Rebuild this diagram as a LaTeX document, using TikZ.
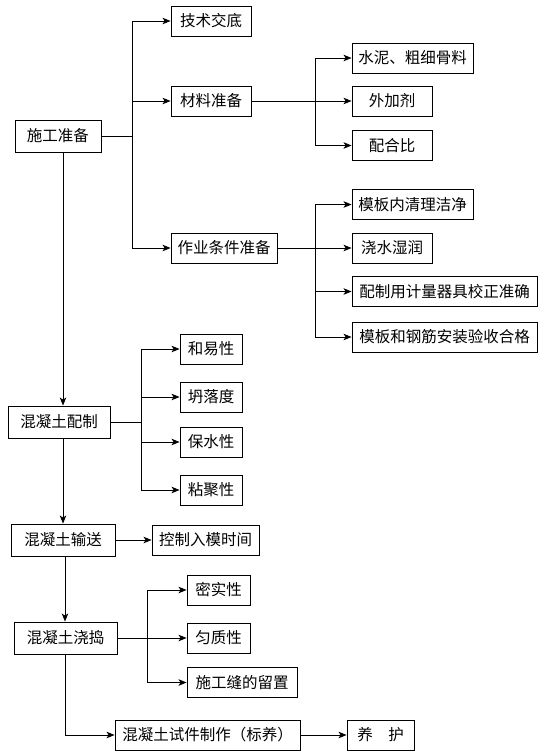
\documentclass[tikz,border=0pt]{standalone}
\usepackage{fontspec}
\setmainfont{Noto Sans CJK SC}
\usetikzlibrary{arrows.meta}
\begin{document}
\begin{tikzpicture}[x=1pt,y=-1pt,
  box/.style={draw,line width=0.9pt,inner sep=0pt,minimum height=30pt,font=\fontsize{15.5}{16}\selectfont},
  bigbox/.style={box,minimum height=32pt},
  ln/.style={line width=0.9pt},
  arr/.style={ln,-{Stealth[length=8pt,width=6.5pt,inset=2pt]}}]
\useasboundingbox (0,0) rectangle (558,755);
% main column
\node[bigbox,minimum width=86pt] (s1) at (58,136) {施工准备};
\node[bigbox,minimum width=102pt] (s2) at (59,422) {混凝土配制};
\node[bigbox,minimum width=104pt] (s3) at (63,540) {混凝土输送};
\node[bigbox,minimum width=103.5pt] (s4) at (65.75,638) {混凝土浇捣};
\node[box,minimum width=185pt] (s5) at (207.5,735) {混凝土试件制作（标养）};
\node[box,minimum width=67pt] (s6) at (380.5,735) {养　护};
% level 1
\node[box,minimum width=80pt] (a1) at (211,21) {技术交底};
\node[box,minimum width=80pt] (a2) at (211,101) {材料准备};
\node[box,minimum width=106pt] (a3) at (224,248) {作业条件准备};
% materials
\node[box,minimum width=121pt] (b1) at (412.5,58) {水泥、粗细骨料};
\node[box,minimum width=80pt] (b2) at (392,101) {外加剂};
\node[box,minimum width=80pt] (b3) at (392,145.5) {配合比};
% conditions
\node[box,minimum width=121pt] (c1) at (412.5,204.5) {模板内清理洁净};
\node[box,minimum width=80pt] (c2) at (392,248) {浇水湿润};
\node[box,minimum width=185pt] (c3) at (444.5,291.5) {配制用计量器具校正准确};
\node[box,minimum width=185pt] (c4) at (444.5,337) {模板和钢筋安装验收合格};
% mix
\node[box,minimum width=62pt] (d1) at (211,349) {和易性};
\node[box,minimum width=62pt] (d2) at (211,397) {坍落度};
\node[box,minimum width=62pt] (d3) at (211,442) {保水性};
\node[box,minimum width=62pt] (d4) at (211,490) {粘聚性};
% transport
\node[box,minimum width=107pt] (e1) at (205.5,540) {控制入模时间};
% pouring
\node[box,minimum width=63pt] (f1) at (218.5,590) {密实性};
\node[box,minimum width=63pt] (f2) at (218.5,638) {匀质性};
\node[box,minimum width=110pt] (f3) at (242,682.5) {施工缝的留置};
% branch coordinates
\coordinate (ja) at (132,136);
\coordinate (jb) at (315,101);
\coordinate (jd) at (141.7,422);
\coordinate (jf) at (147,638);
\coordinate (m1) at (63,0);
\coordinate (m2) at (65,0);
% connectors: 施工准备
\draw[ln] (s1.east) -- (ja);
\draw[arr] (ja) |- (a1.west);
\draw[arr] (ja) |- (a2.west);
\draw[arr] (ja) |- (a3.west);
% 材料准备
\draw[arr] (a2.east) -- (b2.west);
\draw[arr] (jb) |- (b1.west);
\draw[arr] (jb) |- (b3.west);
% 作业条件准备
\draw[arr] (a3.east) -- (c2.west);
\draw[arr] (c2.west -| jb) |- (c1.west);
\draw[arr] (c2.west -| jb) |- (c3.west);
\draw[arr] (c2.west -| jb) |- (c4.west);
% main flow
\draw[arr] (s1.south -| m1) -- (s2.north -| m1);
\draw[arr] (s2.south -| m1) -- (s3.north -| m1);
\draw[arr] (s3.south -| m2) -- (s4.north -| m2);
\draw[arr] (s4.south -| m2) |- (s5.west);
\draw[arr] (s5.east) -- (s6.west);
% 混凝土配制
\draw[ln] (s2.east) -- (jd);
\draw[arr] (jd) |- (d1.west);
\draw[arr] (jd) |- (d2.west);
\draw[arr] (jd) |- (d3.west);
\draw[arr] (jd) |- (d4.west);
% 输送
\draw[arr] (s3.east) -- (e1.west);
% 浇捣
\draw[arr] (s4.east) -- (f2.west);
\draw[arr] (jf) |- (f1.west);
\draw[arr] (jf) |- (f3.west);
\end{tikzpicture}
\end{document}
